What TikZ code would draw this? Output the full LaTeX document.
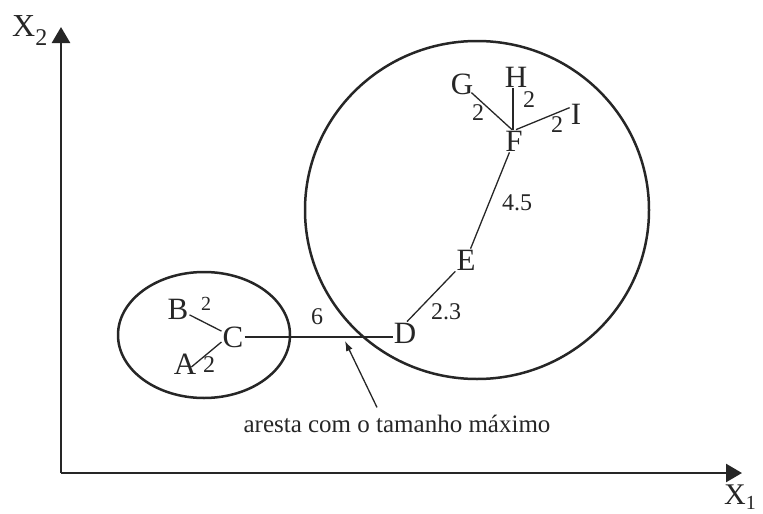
\documentclass[tikz,border=0pt]{standalone}
\usepackage{fontspec}
\setmainfont{Liberation Serif}
\usetikzlibrary{arrows.meta,calc}
\begin{document}
\begin{tikzpicture}[x=1pt,y=-1pt,
  every node/.style={text=black!85},
  lbl/.style={inner sep=1pt,font=\fontsize{31}{31}\selectfont},
  num/.style={inner sep=0pt,font=\fontsize{24}{24}\selectfont},
  smallnum/.style={inner sep=0pt,font=\fontsize{20}{20}\selectfont},
  edge/.style={line width=1.3pt, draw=black!85},
  ring/.style={line width=2.5pt, draw=black!85},
  axis/.style={line width=2.6pt, draw=black!85, -{Triangle[length=16pt,width=18pt]}},
  pointer/.style={line width=1.3pt, draw=black!85, -{Latex[length=10pt,width=7pt]}},
]
\useasboundingbox (0,0) rectangle (763,514);

% axes
\coordinate (o) at (61,473);
\coordinate (ytip) at (61,27);
\coordinate (xtip) at (742,473);
\draw[axis] (o) -- (ytip);
\draw[axis] (o) -- (xtip);
\node[anchor=base west, inner sep=0pt, font=\fontsize{32}{32}\selectfont] (x2lab) at (12,36) {X\raisebox{-9pt}{\fontsize{24}{24}\selectfont 2}};
\node[anchor=base west, inner sep=0pt, font=\fontsize{30}{30}\selectfont] (x1lab) at (724,504) {X\raisebox{-5pt}{\fontsize{20}{20}\selectfont 1}};

% clusters
\draw[ring] (204,335) ellipse [x radius=86, y radius=63];
\draw[ring] (477,210) ellipse [x radius=172, y radius=169];

% vertices
\node[lbl] (b) at (178,309) {B};
\node[lbl] (c) at (233,337) {C};
\node[lbl] (a) at (185,364) {A};
\node[lbl] (d) at (405,333) {D};
\node[lbl] (e) at (466,260) {E};
\node[lbl] (f) at (514,141) {F};
\node[lbl] (g) at (462,84) {G};
\node[lbl] (h) at (516,77) {H};
\node[lbl] (i) at (576,114) {I};

% edges
\draw[edge] (b) -- (c);
\draw[edge] ([xshift=-6pt,yshift=-3pt]a.east) -- ([yshift=-5pt]c.west);
\draw[edge] (c.east) -- (c.east -| d.west);
\draw[edge] ([xshift=2pt]d.north) -- (e.south west);
\draw[edge] (e) -- (f);
\draw[edge] ([xshift=-3pt,yshift=3pt]g.south east) -- ([xshift=-2pt]f.north);
\draw[edge] ([xshift=-1pt]f.north) -- ([xshift=-1pt]f.north |- h.south);
\draw[edge] (f.80) -- (i.135);

% weights
\node[smallnum] (wbc) at (206,304) {2};
\node[num] (wac) at (209,365) {2};
\node[num] (wcd) at (317,317) {6};
\node[num] (wde) at (446,312) {2.3};
\node[num] (wef) at (517,203) {4.5};
\node[num] (wfg) at (478,113) {2};
\node[num] (wfh) at (529,100) {2};
\node[num] (wfi) at (557,125) {2};

% annotation
\node[anchor=base, inner sep=0pt, font=\fontsize{25}{25}\selectfont] (cap) at (397,432) {aresta com o tamanho máximo};
\coordinate (tip) at (345,341);
\draw[pointer] ([xshift=-20pt,yshift=7pt]cap.north) -- (tip);
\end{tikzpicture}
\end{document}
